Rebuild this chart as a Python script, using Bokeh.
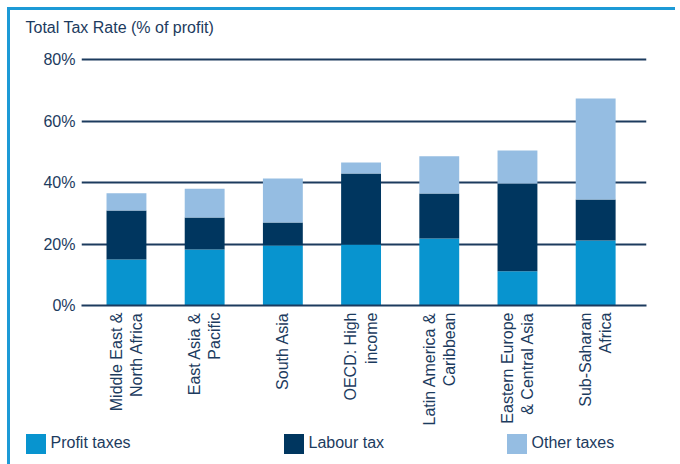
from bokeh.plotting import figure
from bokeh.models import ColumnDataSource, FixedTicker, Legend, LegendItem, Range1d, Label
from bokeh.embed import file_html
from bokeh.resources import INLINE
import math

regions = ["Middle East &\nNorth Africa", "East Asia &\nPacific", "South Asia",
           "OECD: High\nincome", "Latin America &\nCaribbean",
           "Eastern Europe\n& Central Asia", "Sub-Saharan\nAfrica"]
profit = [15.0, 18.2, 19.5, 19.8, 21.8, 11.1, 21.1]
labour = [15.9, 10.4, 7.5, 23.1, 14.6, 28.6, 13.4]
other = [5.6, 9.4, 14.3, 3.6, 12.1, 10.7, 32.8]
series = ["Profit taxes", "Labour tax", "Other taxes"]
y_ticks = [0, 20, 40, 60, 80]
y_tick_labels = ["0%", "20%", "40%", "60%", "80%"]
title_text = "Total Tax Rate (% of profit)"

colors = ["#0894cf", "#00365f", "#95bde2"]
navy = "#1c3b5e"
frame_blue = "#1d9ad6"
font = "Liberation Sans"
W = 668

xs = list(range(len(regions)))
src = ColumnDataSource(dict(x=xs, profit=profit, labour=labour, other=other))

# title strip
t = figure(width=W, height=43, output_backend="svg", toolbar_location=None,
           x_range=Range1d(0, 1), y_range=Range1d(0, 1),
           x_axis_type=None, y_axis_type=None, min_border=0, title=None,
           styles={"margin-top": "7px", "margin-left": "7px",
                   "border-top": f"3px solid {frame_blue}", "border-left": f"3px solid {frame_blue}"})
t.outline_line_color = None
t.xgrid.visible = False
t.ygrid.visible = False
t.add_layout(Label(x=15, y=26, x_units="screen", y_units="screen", text=title_text,
                   text_font=font, text_font_size="16px", text_color=navy,
                   text_baseline="alphabetic", text_align="left"))

# main chart
p = figure(width=W, height=384, output_backend="svg", toolbar_location=None,
           x_range=Range1d(-0.575, 6.65), y_range=Range1d(0, 82.93), title=None,
           min_border_left=71, min_border_right=32, min_border_top=0, min_border_bottom=129,
           styles={"margin-left": "7px", "border-left": f"3px solid {frame_blue}"})
p.outline_line_color = None

p.vbar_stack(["profit", "labour", "other"], x="x", width=0.51, color=colors,
             line_color=None, source=src)

p.xgrid.visible = False
p.ygrid.ticker = FixedTicker(ticks=y_ticks)
p.ygrid.grid_line_color = navy
p.ygrid.grid_line_width = 2

ya = p.yaxis[0]
ya.ticker = FixedTicker(ticks=y_ticks)
ya.major_label_overrides = {tk: l for tk, l in zip(y_ticks, y_tick_labels)}
ya.axis_line_color = None
ya.major_tick_line_color = None
ya.major_tick_out = 0
ya.major_tick_in = 0
ya.minor_tick_line_color = None
ya.major_label_standoff = 6
ya.major_label_text_font = font
ya.major_label_text_font_size = "16px"
ya.major_label_text_color = navy

xa = p.xaxis[0]
xa.ticker = FixedTicker(ticks=xs)
xa.major_label_overrides = {i: r for i, r in zip(xs, regions)}
xa.major_label_orientation = math.pi / 2
xa.axis_line_color = navy
xa.axis_line_width = 2
xa.major_tick_line_color = None
xa.major_tick_out = 0
xa.major_tick_in = 0
xa.minor_tick_line_color = None
xa.major_label_standoff = 7
xa.major_label_text_font = font
xa.major_label_text_font_size = "16px"
xa.major_label_text_color = navy

# legend strip
q = figure(width=W, height=38, output_backend="svg", toolbar_location=None,
           x_range=Range1d(0, 1), y_range=Range1d(0, 1),
           x_axis_type=None, y_axis_type=None, min_border=0, title=None,
           background_fill_alpha=0, border_fill_alpha=0,
           styles={"margin-top": "-8px", "margin-left": "7px",
                   "border-left": f"3px solid {frame_blue}"})
q.outline_line_color = None
q.xgrid.visible = False
q.ygrid.visible = False
rs = q.vbar_stack(["profit", "labour", "other"], x="x", width=0, color=colors,
                  line_color=None, source=src)
for r, name, xoff in zip(rs, series, [12.5, 270.5, 493.5]):
    leg = Legend(items=[LegendItem(label=name, renderers=[r])], location=(xoff, 8.5),
                 padding=0, margin=0, spacing=0, border_line_color=None,
                 background_fill_alpha=0, glyph_width=25, glyph_height=25,
                 label_standoff=3, label_text_font=font, label_text_font_size="16px",
                 label_text_color=navy, label_height=25)
    q.add_layout(leg)

open("out.html", "w").write(file_html([t, p, q], INLINE))
